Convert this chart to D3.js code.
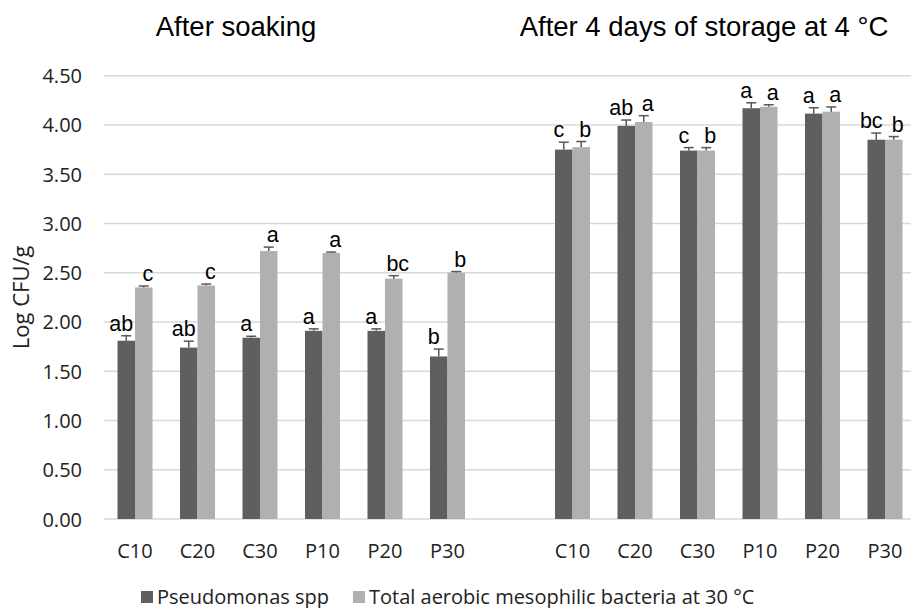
<!DOCTYPE html>
<html>
<head>
<meta charset="utf-8">
<script src="https://cdn.jsdelivr.net/npm/d3@7"></script>
<style>
  body { margin: 0; background: #fff; }
  svg { display: block; }
  .tick text { font-family: "Open Sans", sans-serif; }
</style>
</head>
<body>
<div id="chart"></div>
<script>
// categories and group titles
const categories = ["C10", "C20", "C30", "P10", "P20", "P30"];
const groups = ["After soaking", "After 4 days of storage at 4 \u00B0C"];
const seriesNames = ["Pseudomonas spp", "Total aerobic mesophilic bacteria at 30 \u00B0C"];

// after soaking
const pseudoSoak = [1.81, 1.74, 1.84, 1.91, 1.91, 1.65];
const pseudoSoakErr = [0.05, 0.065, 0.015, 0.02, 0.02, 0.075];
const totalSoak = [2.35, 2.37, 2.72, 2.70, 2.44, 2.50];
const totalSoakErr = [0.015, 0.015, 0.04, 0.01, 0.03, 0.012];

// after storage
const pseudoStore = [3.75, 3.99, 3.74, 4.17, 4.115, 3.85];
const pseudoStoreErr = [0.075, 0.06, 0.03, 0.055, 0.06, 0.068];
const totalStore = [3.775, 4.03, 3.74, 4.185, 4.135, 3.85];
const totalStoreErr = [0.057, 0.064, 0.03, 0.02, 0.048, 0.032];

// significance letters
const pseudoSoakLetters = ["ab", "ab", "a", "a", "a", "b"];
const totalSoakLetters = ["c", "c", "a", "a", "bc", "b"];
const pseudoStoreLetters = ["c", "ab", "c", "a", "a", "bc"];
const totalStoreLetters = ["b", "a", "b", "a", "a", "b"];

const yTicks = [0, 0.5, 1, 1.5, 2, 2.5, 3, 3.5, 4, 4.5];

const colors = ["#5f5f5f", "#b0b0b0"];

// build rows: slot index, with one empty slot between the two groups
const rows = [];
categories.forEach((c, i) => {
    rows.push({ slot: i, cat: c, vals: [pseudoSoak[i], totalSoak[i]],
        errs: [pseudoSoakErr[i], totalSoakErr[i]],
        letters: [pseudoSoakLetters[i], totalSoakLetters[i]] });
});
categories.forEach((c, i) => {
    rows.push({ slot: i + 7, cat: c, vals: [pseudoStore[i], totalStore[i]],
        errs: [pseudoStoreErr[i], totalStoreErr[i]],
        letters: [pseudoStoreLetters[i], totalStoreLetters[i]] });
});

const W = 911, H = 608;
const plotLeft = 103.75, plotW = 812.5, plotTop = 75.7, plotBottom = 519;

const svg = d3.select("#chart").append("svg")
    .attr("width", W).attr("height", H);

const x0 = d3.scaleBand()
    .domain(d3.range(13))
    .range([plotLeft, plotLeft + plotW])
    .paddingInner(0.44).paddingOuter(0.22);
const x1 = d3.scaleBand()
    .domain([0, 1])
    .range([0, x0.bandwidth()]);
const y = d3.scaleLinear().domain([0, 4.5]).range([plotBottom, plotTop]);

// gridlines
svg.append("g")
    .selectAll("line")
    .data(yTicks)
    .join("line")
    .attr("x1", plotLeft).attr("x2", W)
    .attr("y1", d => y(d)).attr("y2", d => y(d))
    .attr("stroke", "#d9d9d9").attr("stroke-width", 1.4);

// y axis labels
const yaxis = d3.axisLeft(y).tickValues(yTicks).tickFormat(d3.format(".2f")).tickSize(0).tickPadding(0);
svg.append("g")
    .attr("transform", "translate(82,0)")
    .call(yaxis)
    .call(g => g.select(".domain").remove())
    .selectAll("text")
    .attr("font-size", 20).attr("fill", "#222").attr("dy", "0.35em");

// y title
svg.append("text")
    .attr("transform", "translate(29," + ((plotTop + plotBottom) / 2) + ") rotate(-90)")
    .attr("text-anchor", "middle")
    .attr("font-family", "Open Sans, sans-serif")
    .attr("font-size", 22).attr("fill", "#222")
    .text("Log CFU/g");

// bars
const grp = svg.append("g").selectAll("g")
    .data(rows)
    .join("g")
    .attr("transform", d => "translate(" + x0(d.slot) + ",0)");

grp.selectAll("rect")
    .data(d => d.vals.map((v, k) => ({ v, k })))
    .join("rect")
    .attr("x", d => x1(d.k))
    .attr("width", x1.bandwidth())
    .attr("y", d => y(d.v))
    .attr("height", d => y(0) - y(d.v))
    .attr("fill", d => colors[d.k]);

// error bars (plus only)
const eb = grp.selectAll("g.err")
    .data(d => d.vals.map((v, k) => ({ v, e: d.errs[k], k, l: d.letters[k] })))
    .join("g").attr("class", "err");
eb.append("line")
    .attr("x1", d => x1(d.k) + x1.bandwidth() / 2)
    .attr("x2", d => x1(d.k) + x1.bandwidth() / 2)
    .attr("y1", d => y(d.v)).attr("y2", d => y(d.v + d.e))
    .attr("stroke", "#595959").attr("stroke-width", 1.5);
eb.append("line")
    .attr("x1", d => x1(d.k) + x1.bandwidth() / 2 - 5)
    .attr("x2", d => x1(d.k) + x1.bandwidth() / 2 + 5)
    .attr("y1", d => y(d.v + d.e)).attr("y2", d => y(d.v + d.e))
    .attr("stroke", "#595959").attr("stroke-width", 1.5);

// letters, nudged outward a little like the original
eb.append("text")
    .attr("x", d => x1(d.k) + x1.bandwidth() / 2 + (d.k === 0 ? -5 : 4))
    .attr("y", d => y(d.v + d.e) - 5)
    .attr("text-anchor", "middle")
    .attr("font-family", "Liberation Sans, Arial, sans-serif")
    .attr("font-size", 21.5).attr("fill", "#000")
    .text(d => d.l);

// x labels
svg.append("g").selectAll("text")
    .data(rows)
    .join("text")
    .attr("x", d => x0(d.slot) + x0.bandwidth() / 2)
    .attr("y", 558)
    .attr("text-anchor", "middle")
    .attr("font-family", "Open Sans, sans-serif")
    .attr("font-size", 20).attr("fill", "#222")
    .text(d => d.cat);

// group titles
const titleX = [236, 704];
svg.append("g").selectAll("text")
    .data(groups)
    .join("text")
    .attr("x", (d, i) => titleX[i])
    .attr("y", 36)
    .attr("text-anchor", "middle")
    .attr("font-family", "Liberation Sans, Arial, sans-serif")
    .attr("font-size", 27.5).attr("fill", "#000")
    .text(d => d);

// legend, entries packed left to right
const leg = svg.append("g").attr("transform", "translate(141,591)");
let lx = 0;
seriesNames.forEach((name, i) => {
    const g = leg.append("g").attr("transform", "translate(" + lx + ",0)");
    g.append("rect").attr("width", 12).attr("height", 12).attr("fill", colors[i]);
    const t = g.append("text")
        .attr("x", 16).attr("y", 12.5)
        .attr("font-family", "Open Sans, sans-serif")
        .attr("font-size", 20).attr("fill", "#222")
        .text(name);
    lx += 16 + t.node().getComputedTextLength() + 24;
});
</script>
</body>
</html>
